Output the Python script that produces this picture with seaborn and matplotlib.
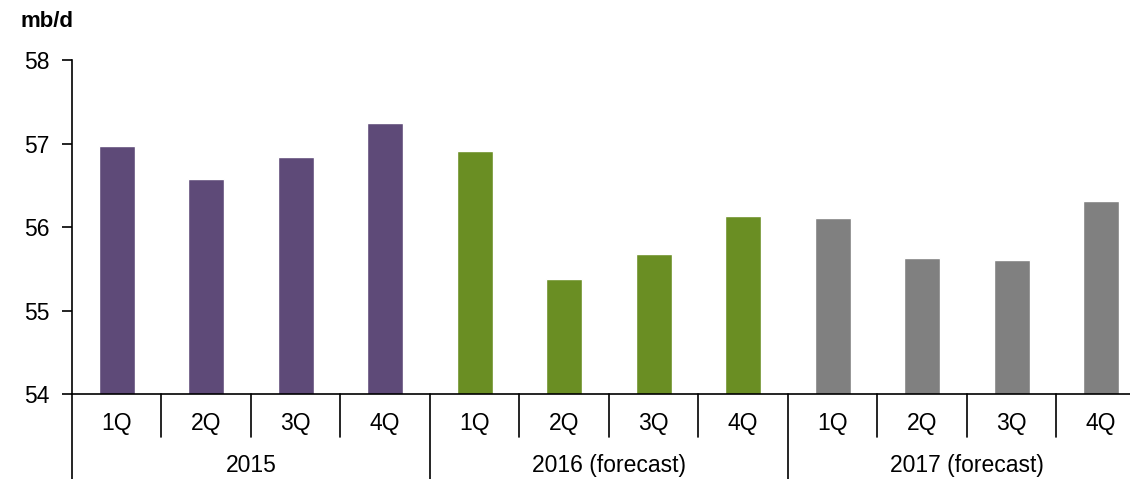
import pandas as pd
import matplotlib
matplotlib.use("Agg")
import matplotlib.pyplot as plt
import seaborn as sns

# --- Data ---
years = ["2015", "2016 (forecast)", "2017 (forecast)"]
quarters = ["1Q", "2Q", "3Q", "4Q"]
values_2015 = [56.97, 56.58, 56.84, 57.25]
values_2016 = [56.91, 55.38, 55.68, 56.13]
values_2017 = [56.11, 55.63, 55.61, 56.31]
colors = ["#5E4A78", "#6A8E23", "#808080"]

rows = []
for year, vals in zip(years, [values_2015, values_2016, values_2017]):
    for q, v in zip(quarters, vals):
        rows.append({"slot": f"{year} {q}", "year": year, "quarter": q, "value": v})
df = pd.DataFrame(rows)

sns.set_style("white")
plt.rcParams['font.family'] = ['Liberation Sans', 'DejaVu Sans']
plt.rcParams['text.color'] = 'black'
plt.rcParams['ytick.labelcolor'] = 'black'

fig = plt.figure(figsize=(11.3, 4.79), dpi=100)
ax = fig.add_axes([0.0637, 0.1775, 0.9504, 0.697])

sns.barplot(data=df, x="slot", y="value", hue="year", palette=colors,
            dodge=False, width=0.4, legend=False, ax=ax, saturation=1)

ax.set_ylim(54, 58)
ax.set_xlim(-0.5, len(df) - 0.5)
ax.set_yticks([54, 55, 56, 57, 58])
ax.tick_params(axis="y", direction="out", length=7, width=1.2, color="black",
               labelsize=16.5, pad=9, left=True, labelcolor="black")
ax.set_xticks([])
ax.set_xlabel("")
ax.set_ylabel("")

for s in ["top", "right"]:
    ax.spines[s].set_visible(False)
for s in ["left", "bottom"]:
    ax.spines[s].set_color("black")
    ax.spines[s].set_linewidth(1.2)

trans = ax.get_xaxis_transform()
# Category separators and labels
for i, row in df.iterrows():
    ax.text(i, -0.087, row["quarter"], transform=trans, ha="center", va="center", fontsize=16.5)
for i in range(len(df) + 1):
    x = i - 0.5
    y_end = -0.254 if i % 4 == 0 else -0.129
    ax.plot([x, x], [0, y_end], transform=trans, color="black", lw=1.2, clip_on=False)
for k, year in enumerate(years):
    ax.text(k * 4 + 1.5, -0.213, year, transform=trans, ha="center", va="center", fontsize=16.5)

fig.text(0.018, 0.956, "mb/d", fontsize=16, fontweight="bold", ha="left", va="center")

fig.savefig("out.png", dpi=100)
